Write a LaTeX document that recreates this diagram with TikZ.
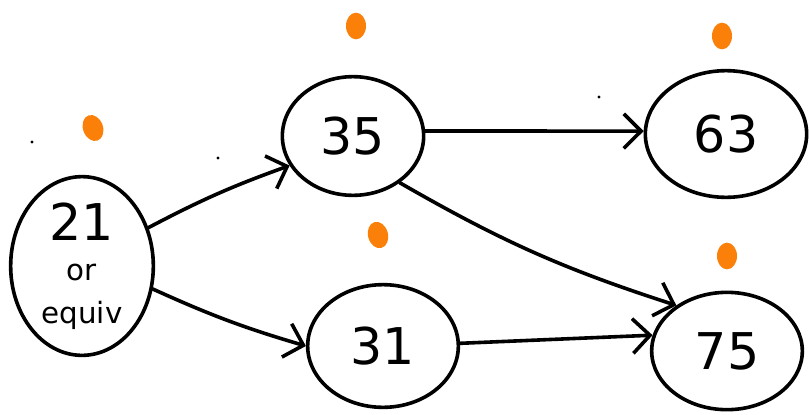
\documentclass[tikz,border=0pt]{standalone}
\usepackage{fontspec}
\setmainfont{DejaVu Sans}
\usetikzlibrary{arrows.meta,shapes.geometric}
\definecolor{dotorange}{RGB}{250,128,10}
\tikzset{
  ink/.style={line width=2.7pt, line cap=round, line join=round},
  state/.style={ink, draw, ellipse, inner sep=0pt, font=\fontsize{38}{38}\selectfont},
  link/.style={ink, -{Straight Barb[length=13pt,width=26pt,line width=2.7pt]}},
  blob/.style={fill=dotorange, draw=none, ellipse, minimum width=15pt, minimum height=20pt, inner sep=0pt},
  speck/.style={fill=black, circle, minimum size=2.4pt, inner sep=0pt}
}
\begin{document}
\begin{tikzpicture}[x=0.75pt,y=-0.75pt]
  \useasboundingbox (0,0) rectangle (809,414);
  % states
  \node[state, minimum width=107pt, minimum height=110pt, align=center] (s21) at (82,266)
    {21\\[-8pt]{\fontsize{22}{22}\selectfont or}\\[-6pt]{\fontsize{22}{22}\selectfont equiv}};
  \node[state, minimum width=106pt, minimum height=89pt] (s35) at (353,136) {35};
  \node[state, minimum width=121pt, minimum height=95pt] (s63) at (726,134) {63};
  \node[state, minimum width=113pt, minimum height=92pt] (s31) at (383,346) {31};
  \node[state, minimum width=113pt, minimum height=88pt] (s75) at (727,351) {75};
  % transitions
  \draw[link] (s21.30) to[bend left=4] (s35.205);
  \draw[link] (s21.-18) to[bend right=4] (s31.180);
  \draw[link] (s35.4) -- (s63.178);
  \draw[link] (s35.-45) to[bend right=6] (s75.138);
  \draw[link] (s31.2) -- (s75.168);
  % marks above the states
  \node[blob, rotate=20] (m21) at (93,128) {};
  \node[blob] (m35) at (356,26) {};
  \node[blob] (m63) at (722,36) {};
  \node[blob, rotate=15] (m31) at (378,235) {};
  \node[blob] (m75) at (727,256) {};
  % stray specks
  \node[speck] (p1) at (32,142) {};
  \node[speck] (p2) at (218,158) {};
  \node[speck] (p3) at (599,97) {};
\end{tikzpicture}
\end{document}
